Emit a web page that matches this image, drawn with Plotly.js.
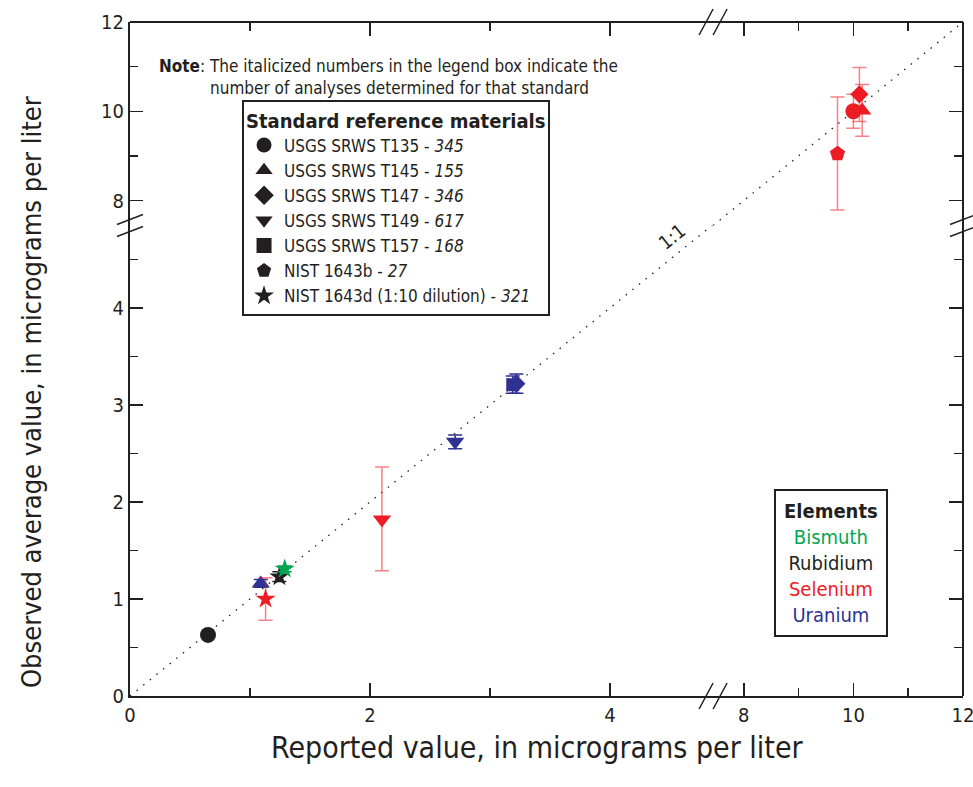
<!DOCTYPE html>
<html>
<head>
<meta charset="utf-8">
<script src="https://cdn.plot.ly/plotly-3.0.1.min.js"></script>
<style>html,body{margin:0;padding:0;background:#fff}#chart{width:973px;height:787px}</style>
</head>
<body>
<div id="chart"></div>
<script>
// ---- data ----
const materialCodes = ['T135', 'T145', 'T147', 'T149', 'T157', '1643b', '1643d'];
const materialLabels = ['USGS SRWS T135', 'USGS SRWS T145', 'USGS SRWS T147', 'USGS SRWS T149', 'USGS SRWS T157', 'NIST 1643b', 'NIST 1643d (1:10 dilution)'];
const materialCounts = [345, 155, 346, 617, 168, 27, 321];
const materialSymbols = ['circle', 'triangle-up', 'diamond', 'triangle-down', 'square', 'pentagon', 'star'];

const elementNames = ['Bismuth', 'Rubidium', 'Selenium', 'Uranium'];
const elementColors = ['#00A651', '#231F20', '#ED1C24', '#2E3192'];
const elementErrColors = ['#00A651', '#231F20', 'rgba(237,28,36,0.55)', '#2E3192'];

// Bismuth
const biMaterial = ['1643d'];
const biReported = [1.29];
const biObserved = [1.31];
const biError = [0.03];
// Rubidium
const rbMaterial = ['T135', '1643d'];
const rbReported = [0.65, 1.245];
const rbObserved = [0.63, 1.23];
const rbError = [0.02, 0.05];
// Uranium
const uMaterial = ['T145', 'T149', 'T157', 'T147'];
const uReported = [1.09, 2.71, 3.19, 3.22];
const uObserved = [1.16, 2.62, 3.21, 3.22];
const uError = [0.04, 0.07, 0.09, 0.1];
// Selenium
const seMaterial = ['1643d', 'T149', '1643b', 'T135', 'T145', 'T147'];
const seReported = [1.13, 2.1, 9.71, 10.0, 10.16, 10.11];
const seObserved = [1.0, 1.82, 9.05, 10.0, 10.02, 10.38];
const seErrPlus = [0.22, 0.54, 1.27, 0.38, 0.58, 0.6];
const seErrMinus = [0.22, 0.53, 1.26, 0.38, 0.58, 0.61];

// axis break layout
const lowRange = [0, 4.86];
const highRange = [7.44, 12];
const lowYRange = [0, 4.85];
const splitX = 0.7;
const splitY = 0.698;
const oneToOne = [0, 12];

// ---- build ----
const FONT = '"Liberation Sans Narrow", "DejaVu Sans Condensed", "Liberation Sans", sans-serif';
const INK = '#231F20';

function symFor(m) { return materialSymbols[materialCodes.indexOf(m)]; }
function sizeFor(s) {
  return {circle: 16, 'triangle-up': 16, 'triangle-down': 16, diamond: 14, square: 13, pentagon: 16, star: 15}[s];
}

const traces = [];

// 1:1 line in both panels
traces.push({x: [oneToOne[0], lowRange[1]], y: [oneToOne[0], lowRange[1]], xaxis: 'x', yaxis: 'y', mode: 'lines',
  line: {color: INK, width: 1.3, dash: '1.5px,7px'}, showlegend: false, hoverinfo: 'skip'});
traces.push({x: [highRange[0], oneToOne[1]], y: [highRange[0], oneToOne[1]], xaxis: 'x2', yaxis: 'y2', mode: 'lines',
  line: {color: INK, width: 1.3, dash: '1.5px,7px'}, showlegend: false, hoverinfo: 'skip'});

function addSeries(el, mats, xs, ys, ep, em) {
  const ci = elementNames.indexOf(el);
  const lo = {x: [], y: [], p: [], m: [], s: []};
  const hi = {x: [], y: [], p: [], m: [], s: []};
  for (let i = 0; i < xs.length; i++) {
    const g = xs[i] > 6 ? hi : lo;
    g.x.push(xs[i]); g.y.push(ys[i]); g.p.push(ep[i]); g.m.push(em[i]); g.s.push(symFor(mats[i]));
  }
  [[lo, 'x', 'y'], [hi, 'x2', 'y2']].forEach(([g, xa, ya]) => {
    if (!g.x.length) return;
    traces.push({
      x: g.x, y: g.y, xaxis: xa, yaxis: ya, mode: 'markers', name: el, showlegend: false,
      marker: {color: elementColors[ci], symbol: g.s, size: g.s.map(sizeFor), opacity: 1, line: {width: 0}},
      error_y: {type: 'data', symmetric: false, array: g.p, arrayminus: g.m, color: elementErrColors[ci], thickness: 1.5, width: 7}
    });
  });
}
addSeries('Uranium', uMaterial, uReported, uObserved, uError, uError);
addSeries('Selenium', seMaterial, seReported, seObserved, seErrPlus, seErrMinus);
addSeries('Rubidium', rbMaterial, rbReported, rbObserved, rbError, rbError);
addSeries('Bismuth', biMaterial, biReported, biObserved, biError, biError);

// legend entries
materialCodes.forEach((m, i) => {
  traces.push({x: [null], y: [null], xaxis: 'x', yaxis: 'y', mode: 'markers',
    name: materialLabels[i] + ' - <i>' + materialCounts[i] + '</i>',
    marker: {color: INK, symbol: materialSymbols[i], size: 15}, showlegend: true, hoverinfo: 'skip'});
});
// dummy traces to activate mirror axes
traces.push({x: [null], y: [null], xaxis: 'x3', yaxis: 'y', showlegend: false, hoverinfo: 'skip'});
traces.push({x: [null], y: [null], xaxis: 'x4', yaxis: 'y2', showlegend: false, hoverinfo: 'skip'});
traces.push({x: [null], y: [null], xaxis: 'x', yaxis: 'y3', showlegend: false, hoverinfo: 'skip'});
traces.push({x: [null], y: [null], xaxis: 'x2', yaxis: 'y4', showlegend: false, hoverinfo: 'skip'});

const tickStyle = {
  ticks: 'inside', ticklen: 13, tickwidth: 1.5, tickcolor: INK,
  showline: true, linecolor: INK, linewidth: 2, showgrid: false, zeroline: false,
  tickfont: {family: FONT, size: 20, color: INK}, fixedrange: true, ticklabeloverflow: 'allow'
};
function ax(extra) { return Object.assign({}, tickStyle, extra); }
function minor(d) { return {ticks: 'inside', ticklen: 8, tickwidth: 1.5, tickcolor: INK, dtick: d, tick0: 0, showgrid: false}; }

const layout = {
  width: 973, height: 787,
  margin: {l: 130, r: 10, t: 22, b: 91},
  paper_bgcolor: '#fff', plot_bgcolor: '#fff',
  font: {family: FONT, color: INK},
  showlegend: true,
  xaxis: ax({domain: [0, splitX], range: lowRange, anchor: 'y', tick0: 0, dtick: 2, minor: minor(1)}),
  xaxis2: ax({domain: [splitX, 1], range: highRange, anchor: 'y', tick0: 0, dtick: 2, minor: minor(1)}),
  yaxis: ax({domain: [0, splitY], range: lowYRange, anchor: 'x', tick0: 0, dtick: 1, minor: minor(0.5)}),
  yaxis2: ax({domain: [splitY, 1], range: highRange, anchor: 'x', tick0: 0, dtick: 2, minor: minor(1)}),
  xaxis3: ax({overlaying: 'x', side: 'top', anchor: 'free', position: 1, domain: [0, splitX], range: lowRange, tick0: 0, dtick: 2, showticklabels: false, minor: minor(1)}),
  xaxis4: ax({overlaying: 'x2', side: 'top', anchor: 'free', position: 1, domain: [splitX, 1], range: highRange, tick0: 0, dtick: 2, showticklabels: false, minor: minor(1)}),
  yaxis3: ax({overlaying: 'y', side: 'right', anchor: 'free', position: 1, domain: [0, splitY], range: lowYRange, tick0: 0, dtick: 1, showticklabels: false, minor: minor(0.5)}),
  yaxis4: ax({overlaying: 'y2', side: 'right', anchor: 'free', position: 1, domain: [splitY, 1], range: highRange, tick0: 0, dtick: 2, showticklabels: false, minor: minor(1)}),
  legend: {
    x: 0.1345, y: 0.885, xanchor: 'left', yanchor: 'top',
    bgcolor: '#fff', bordercolor: INK, borderwidth: 2,
    font: {family: FONT, size: 17, color: INK},
    title: {text: '<b>Standard reference materials</b>', font: {family: FONT, size: 20, color: INK}},
    itemsizing: 'trace', tracegroupgap: 0
  },
  annotations: [
    {xref: 'paper', yref: 'paper', x: 0.489, y: -0.077, text: 'Reported value, in micrograms per liter',
      showarrow: false, font: {family: FONT, size: 30, color: INK}, xanchor: 'center', yanchor: 'middle'},
    {xref: 'paper', yref: 'paper', x: -0.118, y: 0.4506, text: 'Observed average value, in micrograms per liter', textangle: -90,
      showarrow: false, font: {family: FONT, size: 27, color: INK}, xanchor: 'center', yanchor: 'middle'},
    {xref: 'paper', yref: 'paper', x: 0.0324, y: 0.934, text: '<b>Note</b>: The italicized numbers in the legend box indicate the',
      showarrow: false, font: {family: FONT, size: 17, color: INK}, xanchor: 'left', yanchor: 'middle'},
    {xref: 'paper', yref: 'paper', x: 0.0936, y: 0.9016, text: 'number of analyses determined for that standard',
      showarrow: false, font: {family: FONT, size: 17, color: INK}, xanchor: 'left', yanchor: 'middle'},
    {xref: 'x', yref: 'y', x: 4.52, y: 4.74, text: '1:1', textangle: -39,
      showarrow: false, font: {family: FONT, size: 19, color: INK}, xanchor: 'center', yanchor: 'middle'},
    {xref: 'paper', yref: 'paper', x: 0.8415, y: 0.1976,
      text: '<b>Elements</b><br>' + elementNames.map((n, i) => '<span style="color:' + elementColors[i] + '">' + n + '</span>').join('<br>'),
      showarrow: false, align: 'center', font: {family: FONT, size: 20, color: INK},
      bordercolor: INK, borderwidth: 2, borderpad: 8, bgcolor: '#fff', xanchor: 'center', yanchor: 'middle'}
  ],
  shapes: []
};

// break marks
function slashX(yAnchor, dx) {
  return {type: 'line', xref: 'paper', yref: 'paper', xsizemode: 'pixel', ysizemode: 'pixel',
    xanchor: splitX, yanchor: yAnchor, x0: dx - 7, x1: dx + 7, y0: -13, y1: 13, line: {color: INK, width: 1.5}};
}
function slashY(xAnchor, dy) {
  return {type: 'line', xref: 'paper', yref: 'paper', xsizemode: 'pixel', ysizemode: 'pixel',
    xanchor: xAnchor, yanchor: splitY, x0: -13, x1: 13, y0: dy - 5, y1: dy + 5, line: {color: INK, width: 1.5}};
}
layout.shapes.push(slashX(0, -7), slashX(0, 7), slashX(1, -7), slashX(1, 7));
layout.shapes.push(slashY(0, 6), slashY(0, -6), slashY(1, 6), slashY(1, -6));

Plotly.newPlot('chart', traces, layout, {staticPlot: true, displayModeBar: false});
</script>
</body>
</html>
